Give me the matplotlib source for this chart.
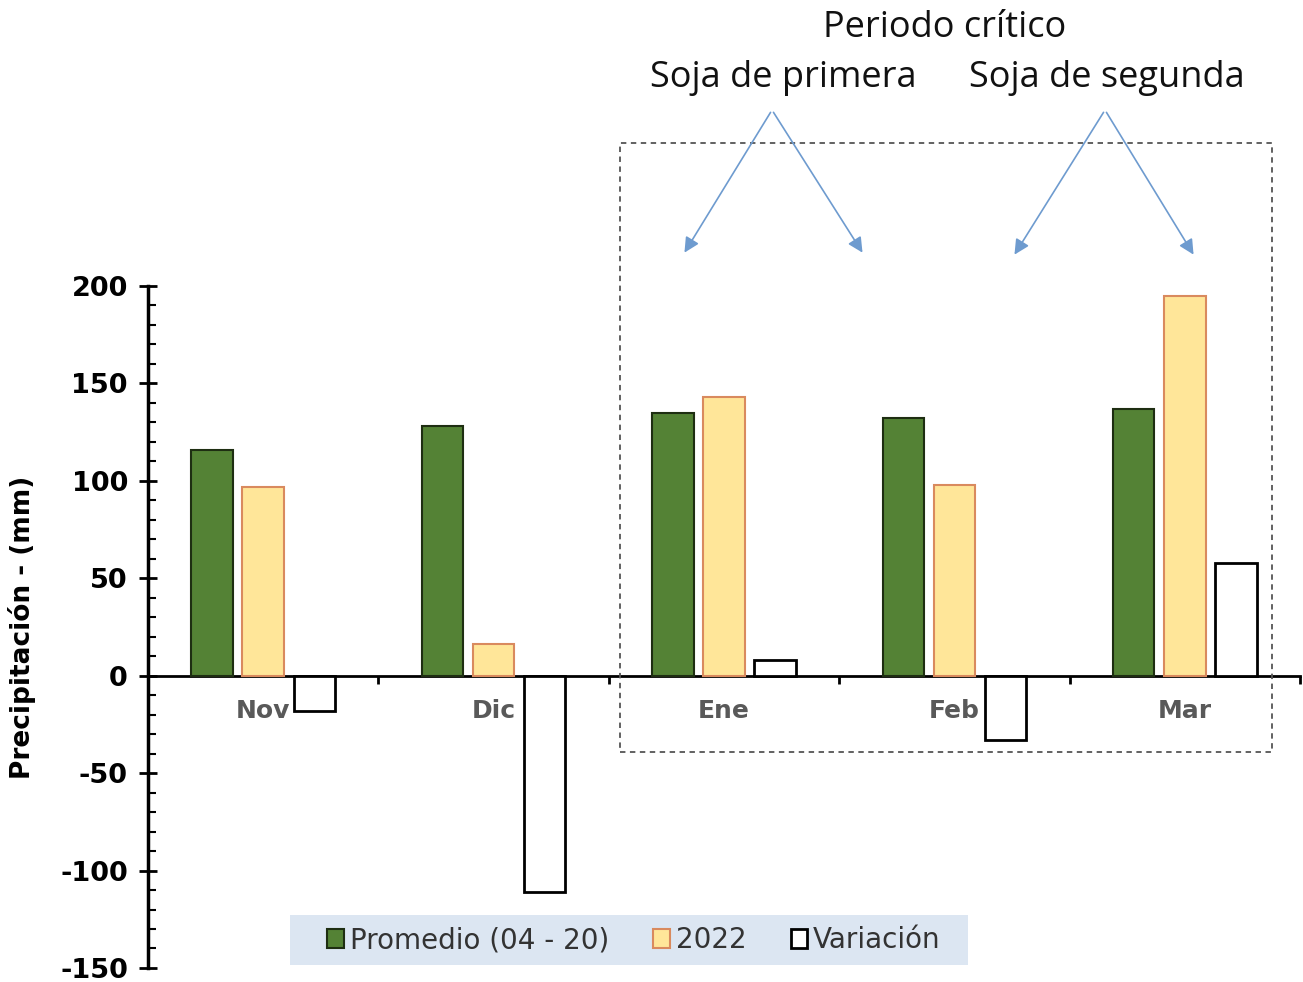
import matplotlib
matplotlib.use('Agg')
import matplotlib.pyplot as plt
import numpy as np
from matplotlib.patches import Rectangle, Patch
from matplotlib.ticker import MultipleLocator

plt.rcParams['font.family'] = ['DejaVu Sans']
plt.rcParams['axes.unicode_minus'] = False

# datos (mm)
meses = ['Nov', 'Dic', 'Ene', 'Feb', 'Mar']
promedio = [116, 128, 135, 132, 137]
anio_2022 = [97, 16, 143, 98, 195]
variacion = [-18, -111, 8, -33, 58]

c_verde = '#548235'
c_amarillo = '#ffe699'

fig = plt.figure(figsize=(13.03, 9.82), dpi=100)
ax = fig.add_axes([0.1136, 0.0143, 0.8841, 0.6945])

x = np.arange(len(meses))
w = 0.18
d = 0.222
ax.bar(x - d, promedio, w, color=c_verde, edgecolor='#1e2e12', linewidth=1.5,
       label='Promedio (04 - 20)', zorder=3)
ax.bar(x, anio_2022, w, color=c_amarillo, edgecolor='#d98a5e', linewidth=1.5,
       label='2022', zorder=3)
ax.bar(x + d, variacion, w, color='white', edgecolor='black', linewidth=2,
       label='Variación', zorder=3)

ax.set_xlim(-0.5, 4.5)
ax.set_ylim(-150, 200)
ax.spines['top'].set_visible(False)
ax.spines['right'].set_visible(False)
ax.spines['bottom'].set_position(('data', 0))
ax.spines['bottom'].set_linewidth(2)
ax.spines['left'].set_linewidth(2.5)

ax.yaxis.set_major_locator(MultipleLocator(50))
ax.yaxis.set_minor_locator(MultipleLocator(10))
ax.tick_params(axis='y', which='major', direction='inout', length=13, width=2,
               labelsize=19.5, pad=8)
ax.tick_params(axis='y', which='minor', direction='in', length=6, width=1.5)
for lab in ax.get_yticklabels():
    lab.set_fontweight('bold')

ax.set_xticks(np.arange(-0.5, 5, 1))
ax.set_xticklabels([])
ax.tick_params(axis='x', which='major', direction='out', length=6, width=2)
for i, m in enumerate(meses):
    ax.text(i, -18, m, ha='center', va='center', fontsize=18, fontweight='bold',
            color='#595959', zorder=2)

ax.set_ylabel('Precipitación - (mm)', fontsize=19, fontweight='bold')
ax.yaxis.set_label_coords(-0.097, 0.5)

# periodo critico
fig.add_artist(Rectangle((620 / 1303, 1 - 752 / 982), 652 / 1303, 609 / 982,
                         transform=fig.transFigure, fill=False,
                         edgecolor='#555555', linestyle=(0, (3, 2.5)), linewidth=1.3))

tf = ['Open Sans', 'DejaVu Sans']
fig.text(945 / 1303, 1 - 28 / 982, 'Periodo crítico', ha='center', va='center',
         fontsize=26, family=tf, color='#111111')
fig.text(783 / 1303, 1 - 78 / 982, 'Soja de primera', ha='center', va='center',
         fontsize=26, family=tf, color='#111111')
fig.text(1107 / 1303, 1 - 78 / 982, 'Soja de segunda', ha='center', va='center',
         fontsize=26, family=tf, color='#111111')

flechas = [((772, 110), (683, 255)), ((772, 110), (864, 255)),
           ((1105, 110), (1013, 257)), ((1105, 110), (1195, 257))]
for (x0, y0), (x1, y1) in flechas:
    fig.add_artist(matplotlib.patches.FancyArrowPatch(
        (x0 / 1303, 1 - y0 / 982), (x1 / 1303, 1 - y1 / 982),
        transform=fig.transFigure, arrowstyle='-|>,head_length=6,head_width=3',
        color='#6e9bcf', linewidth=1.2, mutation_scale=1.5))

# fondo de la leyenda
fig.add_artist(Rectangle((290 / 1303, 1 - 965 / 982), 678 / 1303, 50 / 982,
                         transform=fig.transFigure, facecolor='#dce6f2',
                         edgecolor='none', zorder=4))

handles = [Patch(facecolor=c_verde, edgecolor='#1e2e12', linewidth=1.5),
           Patch(facecolor=c_amarillo, edgecolor='#d98a5e', linewidth=1.5),
           Patch(facecolor='white', edgecolor='black', linewidth=2)]
leg = fig.legend(handles, ['Promedio (04 - 20)', '2022', 'Variación'],
                 loc='center', bbox_to_anchor=(634 / 1303, 1 - 940 / 982), ncol=3,
                 fontsize=20, frameon=False, handlelength=0.6,
                 handleheight=0.7, handletextpad=0.2, columnspacing=1.6,
                 borderpad=0, borderaxespad=0)
leg.set_zorder(5)
for t in leg.get_texts():
    t.set_color('#333333')

plt.savefig('out.png', dpi=100)
